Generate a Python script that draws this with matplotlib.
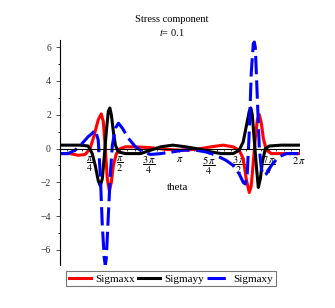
import numpy as np
import matplotlib
matplotlib.use("Agg")
import matplotlib.pyplot as plt

plt.rcParams['font.family'] = ['Liberation Serif', 'DejaVu Serif']
plt.rcParams['mathtext.fontset'] = 'stix'

# Sigmaxx (rouge)
theta_xx = [0.0, 0.265, 0.477, 0.663, 0.795, 0.901, 1.007, 1.087, 1.140, 1.193,
            1.246, 1.299, 1.352, 1.405, 1.485, 1.590, 1.723, 1.988, 2.386, 2.784,
            3.181, 3.579, 3.977, 4.295, 4.560, 4.719, 4.825, 4.904, 4.984, 5.037,
            5.090, 5.143, 5.196, 5.249, 5.302, 5.355, 5.434, 5.567, 5.832, 6.283]
sigma_xx = [-0.3, -0.3, -0.4, -0.35, 0.0, 0.8, 1.7, 2.05, 1.6, 0.0,
            -1.8, -2.5, -2.0, -1.0, -0.3, 0.0, 0.1, 0.1, 0.05, -0.05,
            -0.1, -0.05, 0.1, 0.2, 0.1, -0.1, -0.6, -1.8, -2.6, -2.2,
            -0.8, 0.6, 1.7, 2.0, 1.5, 0.6, -0.1, -0.3, -0.3, -0.3]

# Sigmayy (noir)
theta_yy = [0.0, 0.53, 0.742, 0.848, 0.928, 1.007, 1.060, 1.113, 1.166, 1.219,
            1.272, 1.312, 1.352, 1.405, 1.458, 1.538, 1.723, 2.121, 2.386, 2.651,
            2.969, 3.314, 3.712, 3.977, 4.242, 4.560, 4.719, 4.825, 4.904, 4.984,
            5.024, 5.063, 5.116, 5.169, 5.222, 5.275, 5.328, 5.408, 5.514, 5.832, 6.283]
sigma_yy = [0.2, 0.2, 0.15, -0.3, -1.0, -1.9, -2.2, -1.8, -0.5, 1.0,
            2.2, 2.4, 2.0, 1.0, 0.2, -0.2, -0.3, -0.3, -0.1, 0.1,
            0.2, 0.1, -0.05, -0.2, -0.3, -0.3, -0.1, 0.4, 1.3, 2.2,
            2.4, 2.0, 0.5, -1.0, -2.3, -1.8, -0.8, 0.0, 0.15, 0.2, 0.2]

# Sigmaxy (bleu, pointillés)
theta_xy = [0.0, 0.212, 0.398, 0.583, 0.742, 0.848, 0.928, 1.007, 1.060, 1.113,
            1.166, 1.193, 1.219, 1.272, 1.326, 1.379, 1.458, 1.538, 1.644, 1.803,
            1.988, 2.174, 2.386, 2.651, 2.969, 3.234, 3.579, 3.844, 4.109, 4.374,
            4.560, 4.719, 4.825, 4.878, 4.931, 4.984, 5.037, 5.090, 5.116, 5.143,
            5.196, 5.249, 5.302, 5.355, 5.434, 5.567, 5.753, 5.965, 6.283]
sigma_xy = [-0.3, -0.3, -0.1, 0.3, 0.7, 0.9, 1.1, 0.5, -1.5, -4.5,
            -6.5, -6.9, -6.5, -4.0, -1.5, 0.2, 1.2, 1.5, 1.2, 0.6,
            0.1, -0.2, -0.35, -0.3, -0.2, -0.1, -0.1, -0.2, -0.4, -0.7,
            -1.0, -1.5, -2.0, -2.1, -1.5, 1.0, 4.5, 6.2, 6.3, 6.0,
            3.0, 0.0, -1.2, -1.6, -1.5, -1.0, -0.5, -0.3, -0.3]

tick_pos = [np.pi / 4 * k for k in range(1, 9)]
tick_lab = [r'$\dfrac{\pi}{4}$', r'$\dfrac{\pi}{2}$', r'$\dfrac{3\,\pi}{4}$', r'$\pi$',
            r'$\dfrac{5\,\pi}{4}$', r'$\dfrac{3\,\pi}{2}$', r'$\dfrac{7\,\pi}{4}$', r'$2\,\pi$']

fig = plt.figure(figsize=(3.35, 3.08), dpi=100)
ax = fig.add_axes([60 / 335, 1 - 265 / 308, 240 / 335, 225 / 308])

ax.plot(theta_xx, sigma_xx, color='#ff0000', lw=2.2, label='Sigmaxx')
ax.plot(theta_yy, sigma_yy, color='black', lw=2.2, label='Sigmayy')
ax.plot(theta_xy, sigma_xy, color='#0000ff', lw=2.2, dashes=(6, 2), label='Sigmaxy')

ax.set_xlim(0, 6.32)
ax.set_ylim(-6.89, 6.42)

ax.spines['top'].set_visible(False)
ax.spines['right'].set_visible(False)
ax.spines['bottom'].set_position(('data', 0))
ax.spines['bottom'].set_bounds(0, 2 * np.pi)
for s in ['left', 'bottom']:
    ax.spines[s].set_linewidth(0.8)

ax.set_xticks(tick_pos)
ax.set_xticklabels(tick_lab, fontsize=7.5)
ax.set_xticks(np.arange(0, 2 * np.pi, np.pi / 16), minor=True)
ax.set_yticks([-6, -4, -2, 0, 2, 4, 6])
ax.set_yticks([-5, -3, -1, 1, 3, 5], minor=True)
ax.tick_params(axis='y', labelsize=7, length=3, width=0.6, colors='#333333')
ax.tick_params(axis='y', which='minor', length=1.5, width=0.6)
ax.tick_params(axis='x', length=2.5, width=0.6, pad=2)
ax.tick_params(axis='x', which='minor', length=1.5, width=0.5)

ax.set_xlabel('theta', fontsize=8)
ax.xaxis.set_label_coords(0.49, 0.365)

fig.text(172 / 335, 1 - 19 / 308, 'Stress component', ha='center', va='center', fontsize=7.5)
fig.text(172 / 335, 1 - 32 / 308, r'$t$= 0.1', ha='center', va='center', fontsize=7.5)

leg = fig.legend(loc='upper center', bbox_to_anchor=(171 / 335, 1 - 271 / 308), ncol=3,
                 fontsize=8, frameon=True, fancybox=False, handlelength=2.0,
                 handletextpad=0.35, columnspacing=0.3, borderpad=0.25, borderaxespad=0)
leg.get_frame().set_edgecolor('#555555')
leg.get_frame().set_linewidth(0.8)

fig.savefig('out.png', dpi=100)
